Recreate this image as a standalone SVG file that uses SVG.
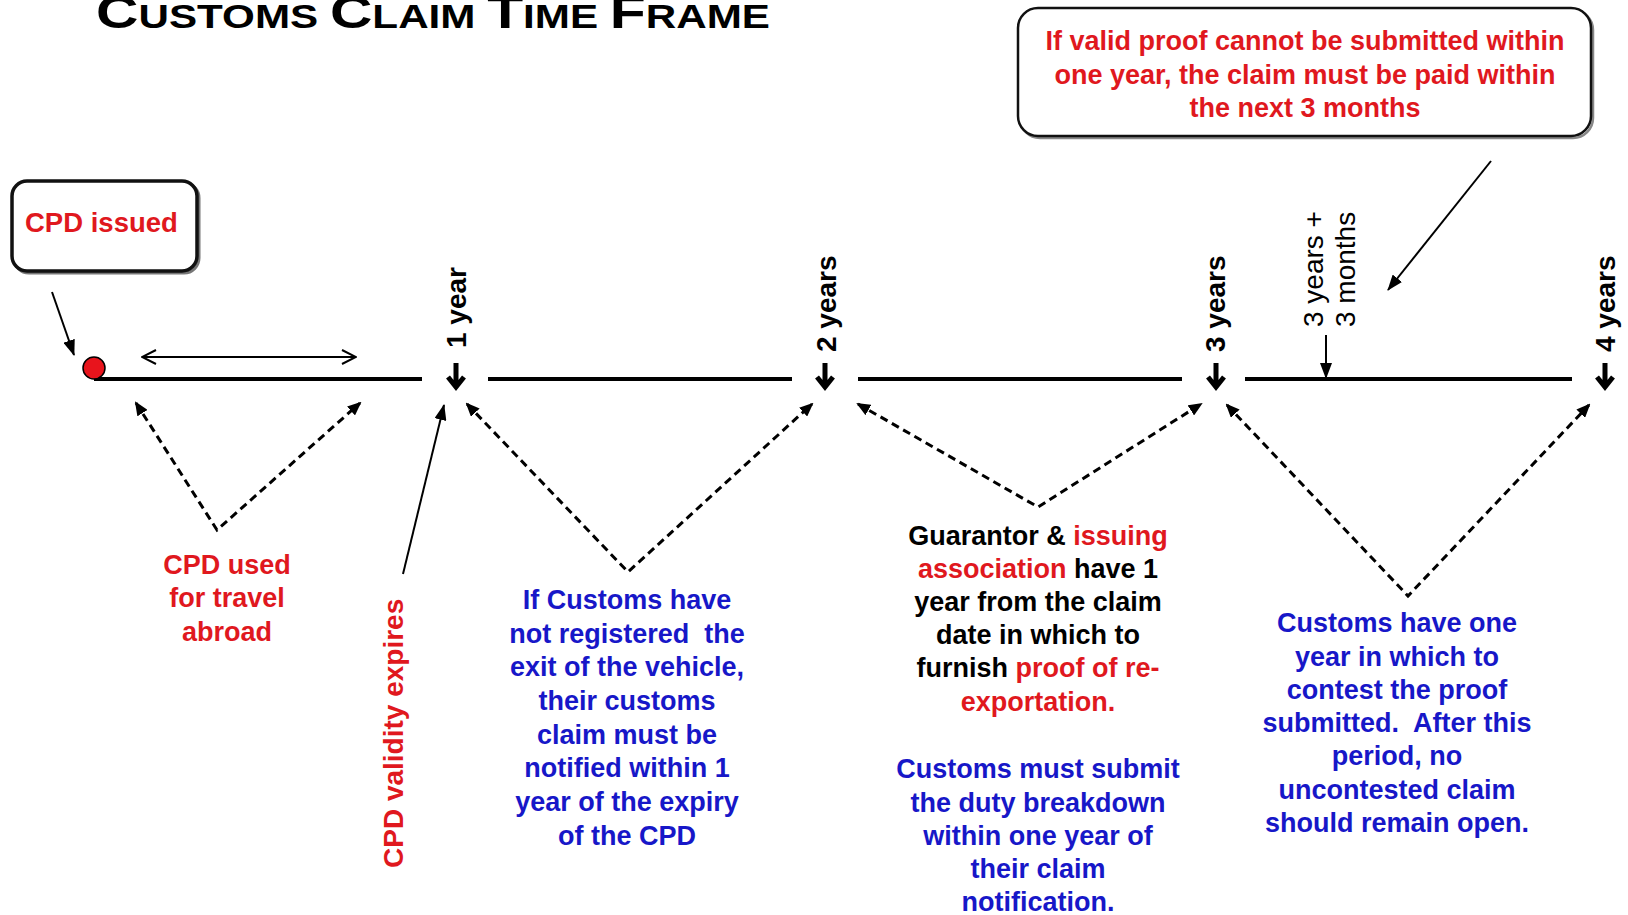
<svg xmlns="http://www.w3.org/2000/svg" width="1628" height="915" viewBox="0 0 1628 915">
<style>
text{font-family:"Liberation Sans",Arial,sans-serif;}
.b{font-weight:bold;font-size:27px;text-anchor:middle;}
.red{fill:#e0181e;}
.blue{fill:#1717c8;}
.blk{fill:#000;}
.yr{font-weight:bold;font-size:28px;fill:#000;}
.yr2{font-size:28px;fill:#000;}
.tl{stroke:#000;stroke-width:4;fill:none;}
.dash{stroke:#000;stroke-width:3;fill:none;stroke-dasharray:8 5;marker-start:url(#dh);marker-end:url(#dh);}
.sol{stroke:#000;stroke-width:2;fill:none;marker-end:url(#sh);}
.down{stroke:#000;stroke-width:5;fill:none;}
</style>
<defs>
<marker id="dh" viewBox="0 0 14 12" refX="12" refY="6" markerWidth="14" markerHeight="12" markerUnits="userSpaceOnUse" orient="auto-start-reverse">
<path d="M0,0 L14,6 L0,12 z" fill="#000"/>
</marker>
<marker id="sh" viewBox="0 0 16 12" refX="15" refY="6" markerWidth="16" markerHeight="12" markerUnits="userSpaceOnUse" orient="auto">
<path d="M0,0 L16,6 L0,12 z" fill="#000"/>
</marker>
<marker id="oh" viewBox="0 0 16 16" refX="15" refY="8" markerWidth="16" markerHeight="16" markerUnits="userSpaceOnUse" orient="auto-start-reverse">
<path d="M1,1 L15,8 L1,15" fill="none" stroke="#000" stroke-width="2"/>
</marker>
</defs>
<rect width="1628" height="915" fill="#fff"/>

<g id="title">
<text x="96" y="28" textLength="674" lengthAdjust="spacingAndGlyphs" font-weight="bold" fill="#000"><tspan font-size="46">C</tspan><tspan font-size="33">USTOMS </tspan><tspan font-size="46">C</tspan><tspan font-size="33">LAIM </tspan><tspan font-size="46">T</tspan><tspan font-size="33">IME </tspan><tspan font-size="46">F</tspan><tspan font-size="33">RAME</tspan></text>
</g>

<g id="timeline">
<path class="tl" d="M94,379 H422 M488,379 H792 M858,379 H1182 M1245,379 H1572"/>
<path class="down" d="M456,363 V387 M448,377 L456,387 L464,377"/>
<path class="down" d="M825,363 V387 M817,377 L825,387 L833,377"/>
<path class="down" d="M1216,363 V387 M1208,377 L1216,387 L1224,377"/>
<path class="down" d="M1605,363 V387 M1597,377 L1605,387 L1613,377"/>
</g>

<g id="node-cpd-issued">
<rect x="14" y="183" width="185" height="90" rx="15" fill="none" stroke="#777" stroke-width="3"/>
<rect x="12" y="181" width="185" height="90" rx="15" fill="#fff" stroke="#111" stroke-width="3.5"/>
<text x="25" y="232" font-weight="bold" font-size="27.5" class="red">CPD issued</text>
</g>

<g id="node-start-dot">
<circle cx="94" cy="368" r="11" fill="#e8141c" stroke="#000" stroke-width="1.5"/>
</g>

<g id="node-callout">
<rect x="1020" y="10" width="573" height="128" rx="20" fill="none" stroke="#888" stroke-width="2.5"/>
<rect x="1018" y="8" width="573" height="128" rx="20" fill="#fff" stroke="#111" stroke-width="2.5"/>
<text class="b red" x="1305" y="50">If valid proof cannot be submitted within</text>
<text class="b red" x="1305" y="84">one year, the claim must be paid within</text>
<text class="b red" x="1305" y="117">the next 3 months</text>
</g>

<g id="labels-years">
<text class="yr" transform="translate(466,348) rotate(-90)">1 year</text>
<text class="yr" transform="translate(836,352) rotate(-90)">2 years</text>
<text class="yr" transform="translate(1225,352) rotate(-90)">3 years</text>
<text class="yr" transform="translate(1615,352) rotate(-90)">4 years</text>
<text class="yr2" transform="translate(1323,327) rotate(-90)">3 years +</text>
<text class="yr2" transform="translate(1355,327) rotate(-90)">3 months</text>
</g>

<g id="node-cpd-used">
<text class="b red" x="227" y="574">CPD used</text>
<text class="b red" x="227" y="607">for travel</text>
<text class="b red" x="227" y="641">abroad</text>
</g>

<g id="node-validity">
<text font-weight="bold" font-size="28" class="red" transform="translate(403,868) rotate(-90)">CPD validity expires</text>
</g>

<g id="node-customs-notify">
<text class="b blue" x="627" y="609">If Customs have</text>
<text class="b blue" x="627" y="643">not registered&#160; the</text>
<text class="b blue" x="627" y="676">exit of the vehicle,</text>
<text class="b blue" x="627" y="710">their customs</text>
<text class="b blue" x="627" y="744">claim must be</text>
<text class="b blue" x="627" y="777">notified within 1</text>
<text class="b blue" x="627" y="811">year of the expiry</text>
<text class="b blue" x="627" y="845">of the CPD</text>
</g>

<g id="node-guarantor">
<text class="b blk" x="1038" y="545">Guarantor &amp; <tspan class="red">issuing</tspan></text>
<text class="b blk" x="1038" y="578"><tspan class="red">association</tspan> have 1</text>
<text class="b blk" x="1038" y="611">year from the claim</text>
<text class="b blk" x="1038" y="644">date in which to</text>
<text class="b blk" x="1038" y="677">furnish <tspan class="red">proof of re-</tspan></text>
<text class="b red" x="1038" y="711">exportation.</text>
<text class="b blue" x="1038" y="778">Customs must submit</text>
<text class="b blue" x="1038" y="812">the duty breakdown</text>
<text class="b blue" x="1038" y="845">within one year of</text>
<text class="b blue" x="1038" y="878">their claim</text>
<text class="b blue" x="1038" y="911">notification.</text>
</g>

<g id="node-contest">
<text class="b blue" x="1397" y="632">Customs have one</text>
<text class="b blue" x="1397" y="666">year in which to</text>
<text class="b blue" x="1397" y="699">contest the proof</text>
<text class="b blue" x="1397" y="732">submitted.&#160; After this</text>
<text class="b blue" x="1397" y="765">period, no</text>
<text class="b blue" x="1397" y="799">uncontested claim</text>
<text class="b blue" x="1397" y="832">should remain open.</text>
</g>

<g id="connectors">
<path class="sol" d="M52,292 L74,355"/>
<path d="M142,357 H356" stroke="#000" stroke-width="2" fill="none" marker-start="url(#oh)" marker-end="url(#oh)"/>
<path class="sol" d="M403,574 L444,405"/>
<path class="sol" d="M1491,161 L1388,290"/>
<path class="sol" d="M1326,335 V378"/>
<path class="dash" d="M136,403 L217,530 L360,403"/>
<path class="dash" d="M467,404 L628,572 L812,404"/>
<path class="dash" d="M858,404 L1038,507 L1201,404"/>
<path class="dash" d="M1227,405 L1408,596 L1589,405"/>
</g>
</svg>
